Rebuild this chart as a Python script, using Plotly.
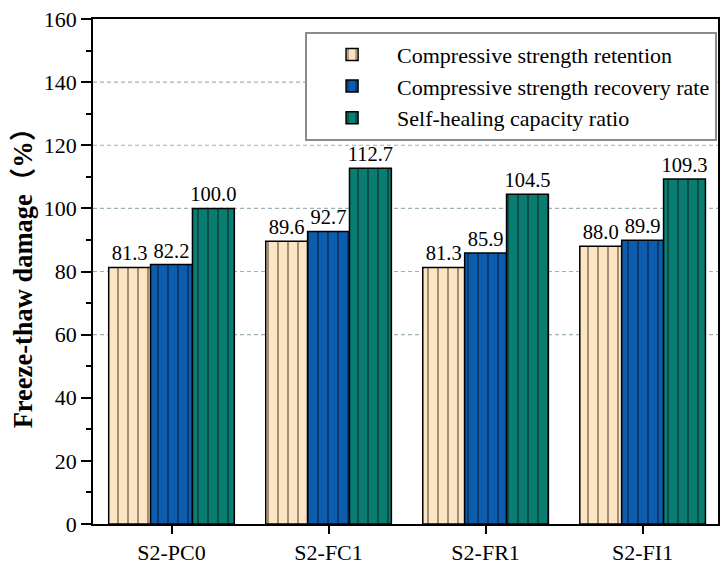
import plotly.graph_objects as go

categories = ["S2-PC0", "S2-FC1", "S2-FR1", "S2-FI1"]
retention = [81.3, 89.6, 81.3, 88.0]
recovery = [82.2, 92.7, 85.9, 89.9]
self_healing = [100.0, 112.7, 104.5, 109.3]
series_names = ["Compressive strength retention",
                "Compressive strength recovery rate",
                "Self-healing capacity ratio"]
grid_values = [60, 80, 100, 120, 140]
y_ticks = [0, 20, 40, 60, 80, 100, 120, 140, 160]

fills = ["#FDE4C3", "#0C5DAD", "#0A7D72"]
pat_colors = ["#7A6A58", "#0A2A55", "#063A34"]
FONT = "Liberation Serif, Times New Roman, serif"
TITLE_FONT = "Liberation Serif, Noto Sans CJK SC, serif"

fig = go.Figure()
for name, vals, fc, pc in zip(series_names, [retention, recovery, self_healing], fills, pat_colors):
    fig.add_trace(go.Bar(
        x=categories, y=vals, name=name,
        marker=dict(color=fc, line=dict(color="#000000", width=1.5),
                    pattern=dict(shape="|", size=10, solidity=0.14, fgcolor=pc, fgopacity=1)),
        text=[f"{v:.1f}" for v in vals], textposition="outside", constraintext="none",
        textfont=dict(family=FONT, size=20.5, color="#000000"),
        cliponaxis=False,
    ))

for g in grid_values:
    fig.add_shape(type="line", xref="paper", x0=0, x1=1, yref="y", y0=g, y1=g,
                  line=dict(color="#9DB3B3", width=1.2, dash="4px,3px"), layer="below")

# page body has an 8px default margin, so the figure is sized to fit the 728x568 window
fig.update_layout(
    width=720, height=560,
    margin=dict(l=85, r=10, t=11, b=44, autoexpand=False),
    paper_bgcolor="white", plot_bgcolor="white",
    barmode="group", bargap=0.2, bargroupgap=0,
    font=dict(family=FONT, size=22, color="#000000"),
    showlegend=True,
    legend=dict(x=0.9985, xanchor="right", y=0.975, yanchor="top",
                bgcolor="white", bordercolor="#8C8C8C", borderwidth=2,
                font=dict(family=FONT, size=22, color="#000000"),
                itemwidth=80, tracegroupgap=0),
)
fig.update_xaxes(
    range=[-0.5, 3.48], showline=True, linecolor="#000000", linewidth=1.5, mirror=True,
    ticks="outside", ticklen=8, tickwidth=1.5, tickcolor="#000000", automargin=False,
    tickfont=dict(family=FONT, size=22), showgrid=False, ticklabeloverflow="allow",
)
fig.update_yaxes(
    range=[0, 160], tickvals=y_ticks, showline=True, linecolor="#000000", linewidth=1.5, mirror=True,
    ticks="outside", ticklen=10, tickwidth=1.5, tickcolor="#000000", automargin=False,
    minor=dict(dtick=10, ticks="outside", ticklen=5, tickwidth=1.5, tickcolor="#000000", showgrid=False),
    tickfont=dict(family=FONT, size=22), showgrid=False, zeroline=False, ticklabeloverflow="allow",
    title=dict(text="<b>Freeze-thaw damage（%）</b>", font=dict(family=TITLE_FONT, size=26.5), standoff=8),
)

fig.write_html("out.html")
